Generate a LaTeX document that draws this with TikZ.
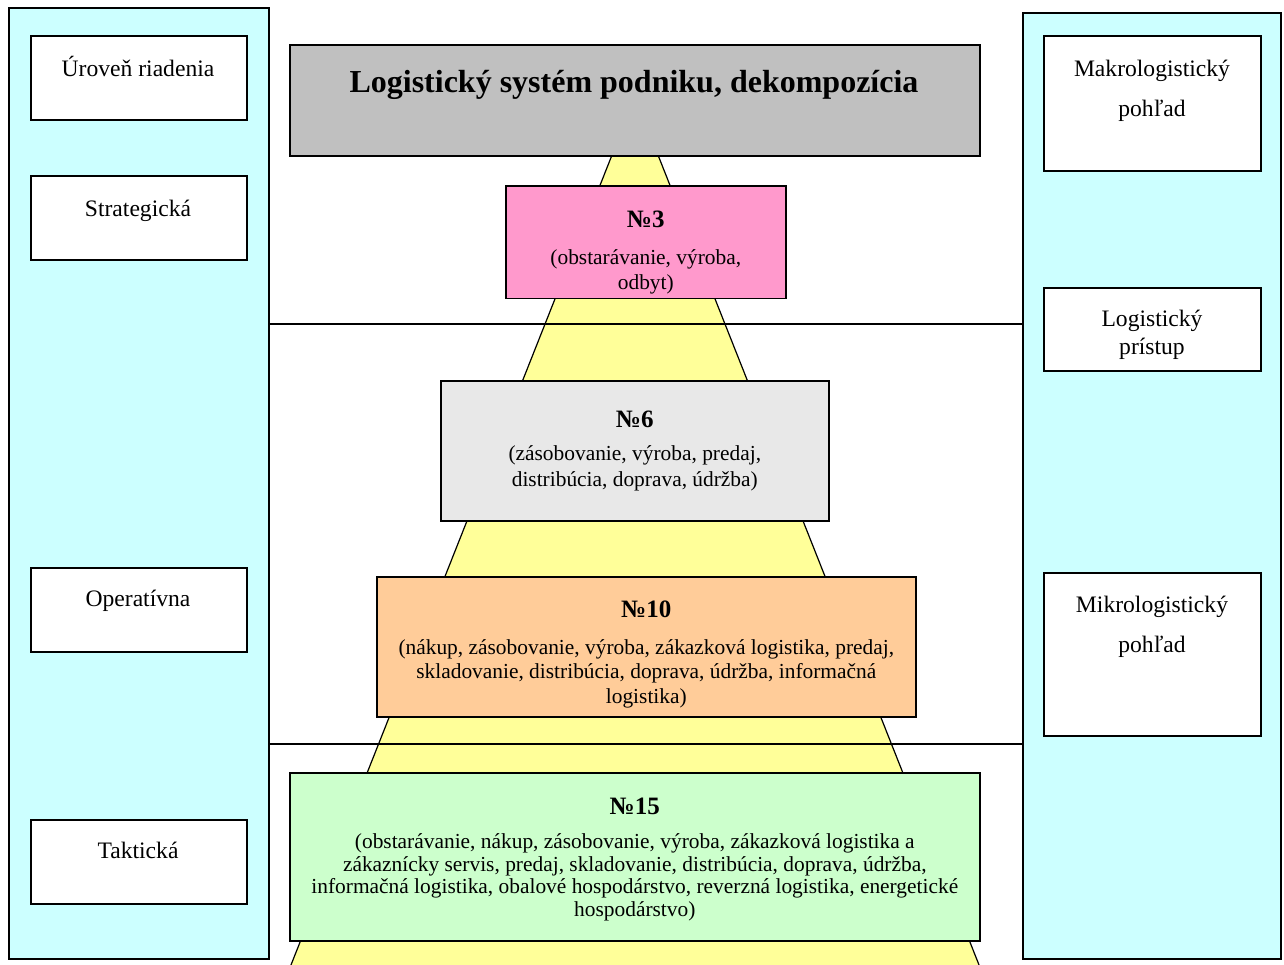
\documentclass[tikz,border=0pt]{standalone}
\usepackage{fontspec}
\setmainfont{Liberation Serif}
\usetikzlibrary{positioning}
\definecolor{colcyan}{HTML}{CCFFFF}
\definecolor{coltitle}{HTML}{C0C0C0}
\definecolor{colpink}{HTML}{FF99CC}
\definecolor{colgrey}{HTML}{E8E8E8}
\definecolor{colorange}{HTML}{FFCC99}
\definecolor{colgreen}{HTML}{CCFFCC}
\definecolor{colyellow}{HTML}{FFFF99}
% heading of a level box; #1 = extra height above it, #2 = text
\newcommand{\levelhead}[2]{{\fontsize{12.5}{14}\selectfont\bfseries\rule{0pt}{#1}#2}}

\begin{document}
\begin{tikzpicture}
[
x=0.5pt,y=-0.5pt,
column/.style={draw,line width=0.8pt,fill=colcyan,anchor=north west,inner sep=0pt,minimum width=#1},
sidebox/.style 2 args={draw,line width=0.8pt,fill=white,anchor=north west,inner sep=0pt,minimum width=#1,minimum height=#2},
sidetext/.style={inner sep=0pt,align=center,font=\fontsize{11.8}{14}\selectfont,text height=8pt,text depth=2pt},
sidetwo/.style={inner sep=0pt,align=center,font=\fontsize{11.8}{14}\selectfont},
levelbox/.style 2 args={draw,line width=0.8pt,anchor=north west,inner sep=2pt,align=center,
            font=\fontsize{10.7}{12}\selectfont,minimum width=#1,minimum height=#2},
divider/.style={line width=0.6pt},
]

\useasboundingbox (0,0) rectangle (1284,964);

%Pyramid behind the levels
\filldraw[fill=colyellow,draw=black,line width=0.6pt] (614,150) -- (656,150) -- (983,975) -- (287,975) -- cycle;

%Place the columns
\node[column=130pt,minimum height=475.5pt] (lcol) at (8,7) {};
\node[column=129pt,minimum height=473pt] (rcol) at (1022,12) {};

%Draw the dividers
\coordinate (divAl) at (268,324);
\coordinate (divAr) at (1022,324);
\coordinate (divBl) at (268,744);
\coordinate (divBr) at (1022,744);
\draw[divider] (divAl) -- (divAr);
\draw[divider] (divBl) -- (divBr);

%Left column: levels of management
\node[sidebox={108pt}{42pt}] (uroven) at (30,35) {};
\node[sidebox={108pt}{42pt}] (strat) at (30,175) {};
\node[sidebox={108pt}{42pt}] (operat) at (30,567) {};
\node[sidebox={108pt}{42pt}] (takt) at (30,819) {};
\node[sidetext] (urovent) at (138,70) {Úroveň riadenia};
\node[sidetext] (stratt) at (138,210) {Strategická};
\node[sidetext] (operatt) at (138,600) {Operatívna};
\node[sidetext] (taktt) at (138,852) {Taktická};

%Right column: views
\node[sidebox={108.5pt}{67.5pt}] (makro) at (1043,35) {};
\node[sidebox={108.5pt}{41.5pt}] (pristup) at (1043,287) {};
\node[sidebox={108.5pt}{81.5pt}] (mikro) at (1043,572) {};
\node[sidetwo] (makrot) at (1152,91) {Makrologistický\\[6pt]pohľad};
\node[sidetwo] (pristupt) at (1152,335) {Logistický\\prístup};
\node[sidetwo] (mikrot) at (1152,627) {Mikrologistický\\[6pt]pohľad};

%Title
\node[draw,line width=1pt,fill=coltitle,anchor=north west,minimum width=345pt,minimum height=55.5pt,inner sep=0pt] (title) at (289,44) {};
\node[font=\fontsize{16}{18}\selectfont\bfseries,inner sep=0pt,text height=11pt,text depth=3pt] (titlet) at (634,84) {Logistický systém podniku, dekompozícia};

%Levels of decomposition
\node[levelbox={140pt}{56pt},fill=colpink,font=\fontsize{10.7}{12.5}\selectfont] (n3) at (505,185)
  {\levelhead{19pt}{№3}\\[6pt](obstarávanie, výroba,\\odbyt)};
\node[levelbox={194pt}{70pt},fill=colgrey,font=\fontsize{10.7}{12.8}\selectfont] (n6) at (440,380)
  {\levelhead{6pt}{№6}\\[4pt](zásobovanie, výroba, predaj,\\distribúcia, doprava, údržba)};
\node[levelbox={269.5pt}{70pt},fill=colorange,font=\fontsize{10.7}{12.3}\selectfont] (n10) at (376,576)
  {\levelhead{16pt}{№10}\\[6pt](nákup, zásobovanie, výroba, zákazková logistika, predaj,\\skladovanie, distribúcia, doprava, údržba, informačná\\logistika)};
\node[levelbox={345pt}{84pt},fill=colgreen,font=\fontsize{10.7}{11.3}\selectfont] (n15) at (289,772)
  {\levelhead{11pt}{№15}\\[5.5pt](obstarávanie, nákup, zásobovanie, výroba, zákazková logistika a\\zákaznícky servis, predaj, skladovanie, distribúcia, doprava, údržba,\\informačná logistika, obalové hospodárstvo, reverzná logistika, energetické\\hospodárstvo)};
\end{tikzpicture}
\end{document}
